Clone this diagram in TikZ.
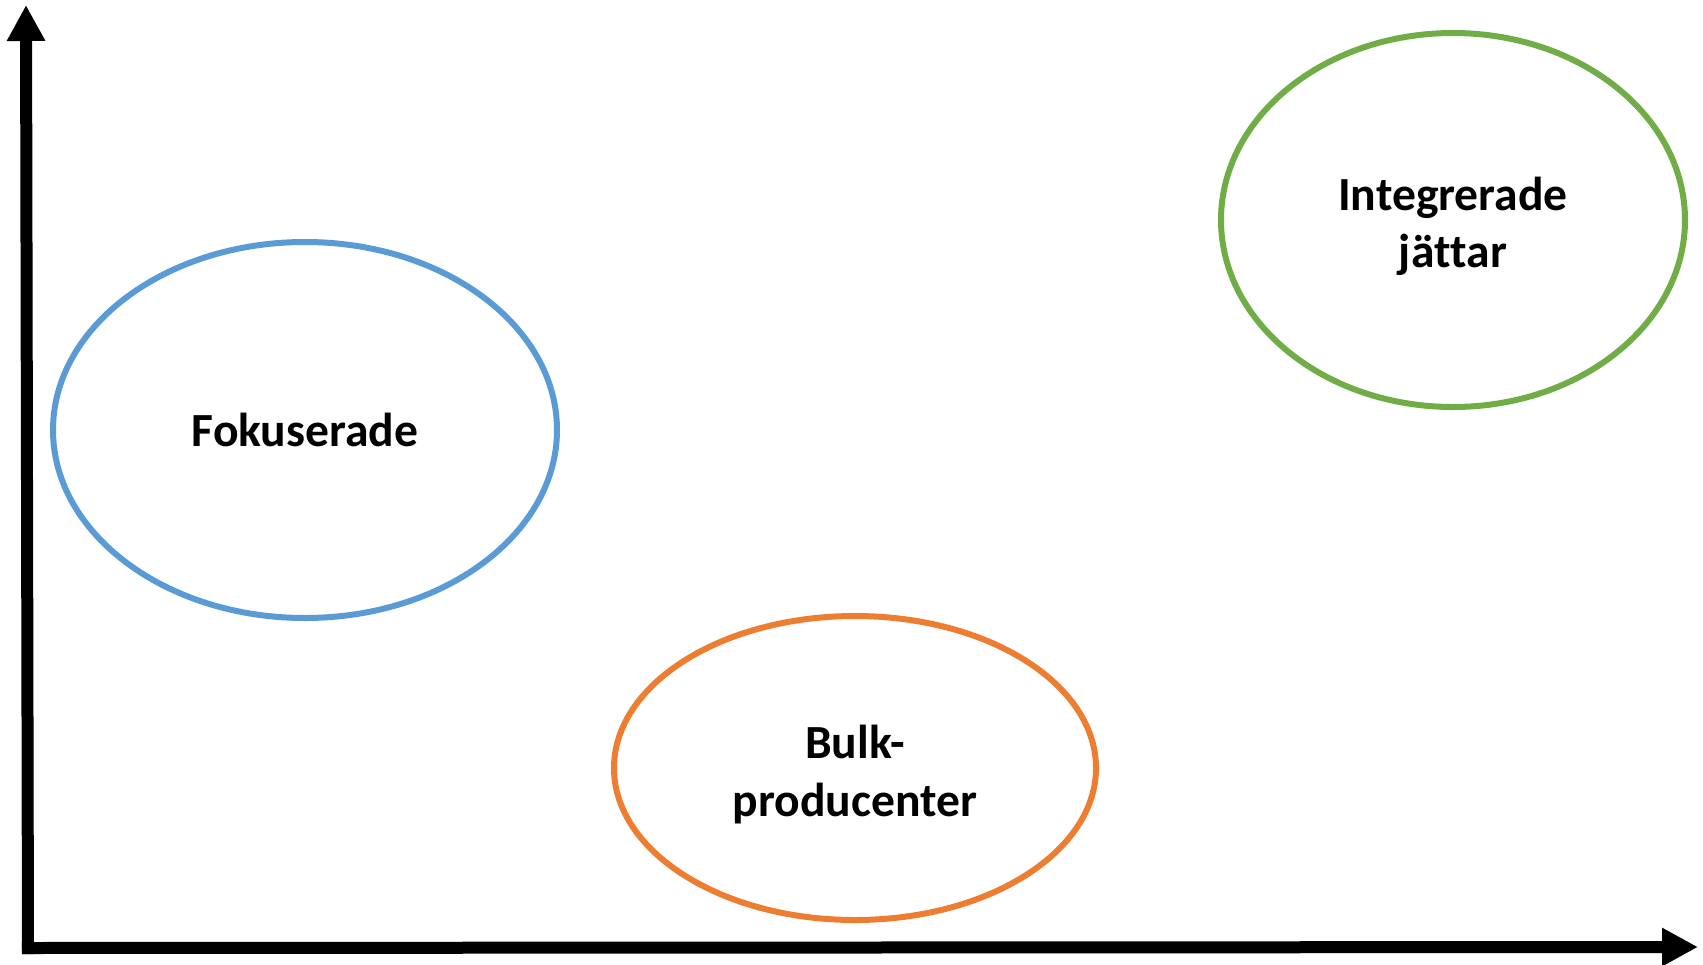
\documentclass[tikz,border=0pt]{standalone}
\usepackage{fontspec}
\setmainfont[Ligatures={NoCommon}]{Carlito}
\usetikzlibrary{arrows.meta,shapes.geometric}
\definecolor{groupblue}{HTML}{5B9BD5}
\definecolor{grouporange}{HTML}{ED7D31}
\definecolor{groupgreen}{HTML}{70AD47}
\begin{document}
\begin{tikzpicture}[
        x=0.5pt, y=-0.5pt,
        axis/.style={line width=6pt, -{Triangle[length=18pt, width=18pt]}},
        group/.style={draw, ellipse, line width=3pt, align=center,
            font=\fontsize{23.8}{28.8}\selectfont\bfseries, inner sep=0pt},
        bluen/.style={draw=groupblue},
        orangen/.style={draw=grouporange},
        greenn/.style={draw=groupgreen},
    ]
    \useasboundingbox (0,0) rectangle (1703,964);
    \coordinate (origin) at (28,948);
    \coordinate (ytop) at (26,5);
    \coordinate (xend) at (1698,947);
    \draw[axis] ([yshift=-3pt]origin) -- (ytop);
    \draw[axis] ([xshift=-3pt]origin) -- (xend);
    \node[group, bluen, minimum width=252pt, minimum height=188pt](fokus) at (305,430){Fokuserade};
    \node[group, orangen, minimum width=241pt, minimum height=152pt](bulk) at (855,768){\rule{0pt}{23pt}Bulk-\\producenter};
    \node[group, greenn, minimum width=232pt, minimum height=187pt](integ) at (1453,220){\rule{0pt}{23pt}Integrerade\\jät\kern0pt tar};
    \end{tikzpicture}
\end{document}
